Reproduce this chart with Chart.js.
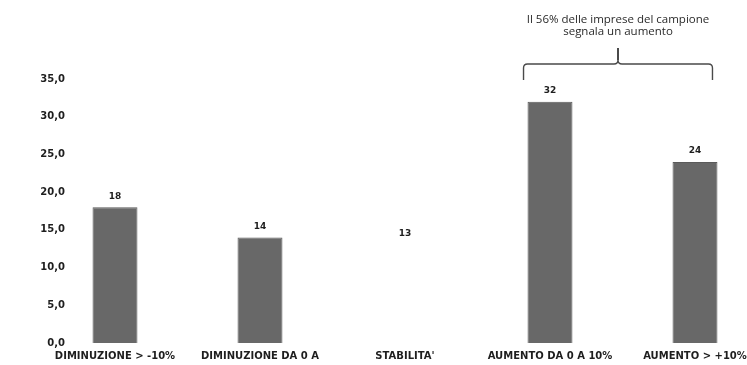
<!DOCTYPE html>
<html>
<head>
<meta charset="utf-8">
<script src="https://cdn.jsdelivr.net/npm/chart.js@4.4.1/dist/chart.umd.min.js"></script>
<style>
  html, body { margin: 0; padding: 0; background: #ffffff; overflow: hidden; }
  #chart { display: block; }
</style>
</head>
<body>
<canvas id="chart" width="747" height="365"></canvas>
<script>
// Categorie di variazione e quota di imprese (%)
const categories = [
  'DIMINUZIONE > -10%',
  'DIMINUZIONE DA 0 A',
  "STABILITA'",
  'AUMENTO DA 0 A 10%',
  'AUMENTO > +10%'
];
const shares = [18, 14, 13, 32, 24];
const barColors = ['#686868', '#686868', '#ffffff', '#686868', '#686868'];
const borderColors = ['#5a5a5a', '#5a5a5a', '#ffffff', '#5a5a5a', '#5a5a5a'];
const yTicks = { min: 0, max: 35, step: 5 };
const noteLines = ["Il 56% delle imprese del campione", 'segnala un aumento'];
const bracedBars = [3, 4];

// Etichette dei valori sopra le barre
const valueLabels = {
  id: 'valueLabels',
  afterDatasetsDraw(chart) {
    const { ctx } = chart;
    const meta = chart.getDatasetMeta(0);
    ctx.save();
    ctx.font = 'bold 9px "DejaVu Sans"';
    ctx.fillStyle = '#1e1e1e';
    ctx.textAlign = 'center';
    ctx.textBaseline = 'middle';
    meta.data.forEach((bar, i) => {
      ctx.fillText(String(shares[i]), bar.x, bar.y - 11);
    });
    ctx.restore();
  }
};

// Parentesi graffa sulle barre di aumento, con nota
const braceNote = {
  id: 'braceNote',
  afterDraw(chart) {
    const { ctx, chartArea } = chart;
    const meta = chart.getDatasetMeta(0);
    const a = meta.data[bracedBars[0]];
    const b = meta.data[bracedBars[1]];
    const x0 = a.x - a.width / 2 - 4;
    const x1 = b.x + b.width / 2 - 5;
    const xm = (x0 + x1) / 2;
    const yLine = chartArea.top - 15;
    const yEnd = chartArea.top + 1;
    ctx.save();
    ctx.strokeStyle = '#4a4a4a';
    ctx.lineWidth = 1.4;
    ctx.beginPath();
    ctx.moveTo(x0, yEnd);
    ctx.lineTo(x0, yLine + 4);
    ctx.quadraticCurveTo(x0, yLine, x0 + 4, yLine);
    ctx.lineTo(xm - 4, yLine);
    ctx.quadraticCurveTo(xm, yLine, xm, yLine - 4);
    ctx.quadraticCurveTo(xm, yLine, xm + 4, yLine);
    ctx.lineTo(x1 - 4, yLine);
    ctx.quadraticCurveTo(x1, yLine, x1, yLine + 4);
    ctx.lineTo(x1, yEnd);
    ctx.stroke();
    ctx.lineWidth = 2;
    ctx.beginPath();
    ctx.moveTo(xm, yLine - 4);
    ctx.lineTo(xm, yLine - 16);
    ctx.stroke();
    ctx.fillStyle = '#2a2a2a';
    ctx.font = '11.5px "Open Sans"';
    ctx.textAlign = 'center';
    ctx.textBaseline = 'middle';
    ctx.fillText(noteLines[0], xm, 20);
    ctx.fillText(noteLines[1], xm, 32);
    ctx.restore();
  }
};

new Chart(document.getElementById('chart'), {
  type: 'bar',
  data: {
    labels: categories,
    datasets: [{
      data: shares,
      backgroundColor: barColors,
      borderColor: borderColors,
      borderWidth: 1,
      categoryPercentage: 1,
      barPercentage: 0.31,
      clip: false
    }]
  },
  options: {
    responsive: false,
    animation: false,
    layout: { padding: { top: 79, right: 52, bottom: 0, left: 0 } },
    plugins: {
      legend: { display: false },
      tooltip: { enabled: false }
    },
    scales: {
      x: {
        offset: false,
        grid: { display: false, drawTicks: false },
        border: { display: false },
        ticks: {
          color: '#1e1e1e',
          font: { family: '"DejaVu Sans"', size: 10, weight: 'bold' },
          padding: 7,
          maxRotation: 0,
          autoSkip: false
        },
        afterFit(scale) {
          scale.height = 22;
          scale.paddingLeft = 0;
          scale.paddingRight = 0;
        }
      },
      y: {
        min: yTicks.min,
        max: yTicks.max,
        grid: { display: false, drawTicks: false },
        border: { display: false },
        ticks: {
          stepSize: yTicks.step,
          color: '#1e1e1e',
          font: { family: '"DejaVu Sans"', size: 10, weight: 'bold' },
          padding: 50,
          callback: v => v.toFixed(1).replace('.', ',')
        },
        afterFit(scale) {
          scale.width = 115;
          scale.paddingTop = 0;
          scale.paddingBottom = 0;
        }
      }
    }
  },
  plugins: [valueLabels, braceNote]
});
</script>
</body>
</html>
